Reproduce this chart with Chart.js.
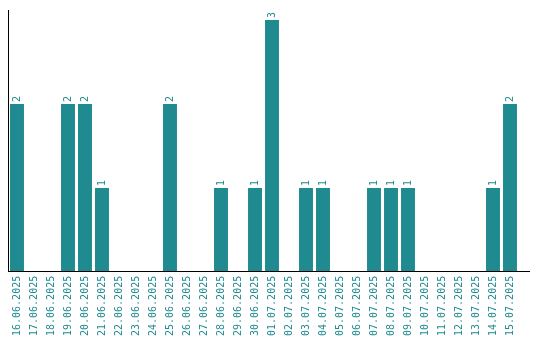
<!DOCTYPE html>
<html>
<head>
<meta charset="utf-8">
<script src="https://cdn.jsdelivr.net/npm/chart.js@4/dist/chart.umd.min.js"></script>
<style>
  html, body { margin: 0; padding: 0; background: #fff; }
  #wrap { width: 540px; height: 340px; }
</style>
</head>
<body>
<div id="wrap"><canvas id="chartCanvas" width="540" height="340"></canvas></div>
<script>
const days = [
    '16.06.2025', '17.06.2025', '18.06.2025', '19.06.2025', '20.06.2025',
    '21.06.2025', '22.06.2025', '23.06.2025', '24.06.2025', '25.06.2025',
    '26.06.2025', '27.06.2025', '28.06.2025', '29.06.2025', '30.06.2025',
    '01.07.2025', '02.07.2025', '03.07.2025', '04.07.2025', '05.07.2025',
    '06.07.2025', '07.07.2025', '08.07.2025', '09.07.2025', '10.07.2025',
    '11.07.2025', '12.07.2025', '13.07.2025', '14.07.2025', '15.07.2025'
];
const counts = [
    2, 0, 0, 2, 2,
    1, 0, 0, 0, 2,
    0, 0, 1, 0, 1,
    3, 0, 1, 1, 0,
    0, 1, 1, 1, 0,
    0, 0, 0, 1, 2
];

const teal = '#1f8a8f';
const monoFont = '"DejaVu Sans Mono", "Liberation Mono", monospace';

// числа над столбцами, повернутые вертикально
const valueLabels = {
    id: 'valueLabels',
    afterDatasetsDraw(chart) {
        const ctx = chart.ctx;
        const meta = chart.getDatasetMeta(0);
        ctx.save();
        ctx.fillStyle = teal;
        ctx.font = '10px ' + monoFont;
        ctx.textAlign = 'left';
        ctx.textBaseline = 'middle';
        meta.data.forEach((bar, i) => {
            if (!counts[i]) return;
            ctx.save();
            ctx.translate(bar.x, bar.y - 2);
            ctx.rotate(-Math.PI / 2);
            ctx.fillText(String(counts[i]), 0, 0);
            ctx.restore();
        });
        ctx.restore();
    }
};

// ось X у оригинала тянется чуть дальше последнего столбца
const xAxisLine = {
    id: 'xAxisLine',
    afterDraw(chart) {
        const ctx = chart.ctx;
        const area = chart.chartArea;
        const y = Math.round(area.bottom - 0.5) + 0.5;
        ctx.save();
        ctx.strokeStyle = '#000';
        ctx.lineWidth = 1;
        ctx.beginPath();
        ctx.moveTo(area.left, y);
        ctx.lineTo(530, y);
        ctx.stroke();
        ctx.restore();
    }
};

const chartCtx = document.getElementById('chartCanvas').getContext('2d');
new Chart(chartCtx, {
    type: 'bar',
    data: {
        labels: days,
        datasets: [{
            data: counts,
            backgroundColor: teal,
            borderWidth: 0,
            barPercentage: 0.82,
            categoryPercentage: 1
        }]
    },
    options: {
        responsive: false,
        animation: false,
        layout: { padding: { top: 10, left: 8.5, right: 21.5, bottom: 0 } },
        plugins: {
            legend: { display: false },
            tooltip: { enabled: false }
        },
        scales: {
            x: {
                grid: { display: false, drawTicks: false },
                border: { display: false },
                ticks: {
                    color: teal,
                    font: { family: monoFont, size: 10 },
                    minRotation: 90,
                    maxRotation: 90,
                    autoSkip: false,
                    padding: 4
                }
            },
            y: {
                min: 0,
                max: 3.12,
                grid: { display: false, drawTicks: false },
                border: { display: true, color: '#000', width: 1 },
                ticks: { display: false }
            }
        }
    },
    plugins: [valueLabels, xAxisLine]
});
</script>
</body>
</html>
